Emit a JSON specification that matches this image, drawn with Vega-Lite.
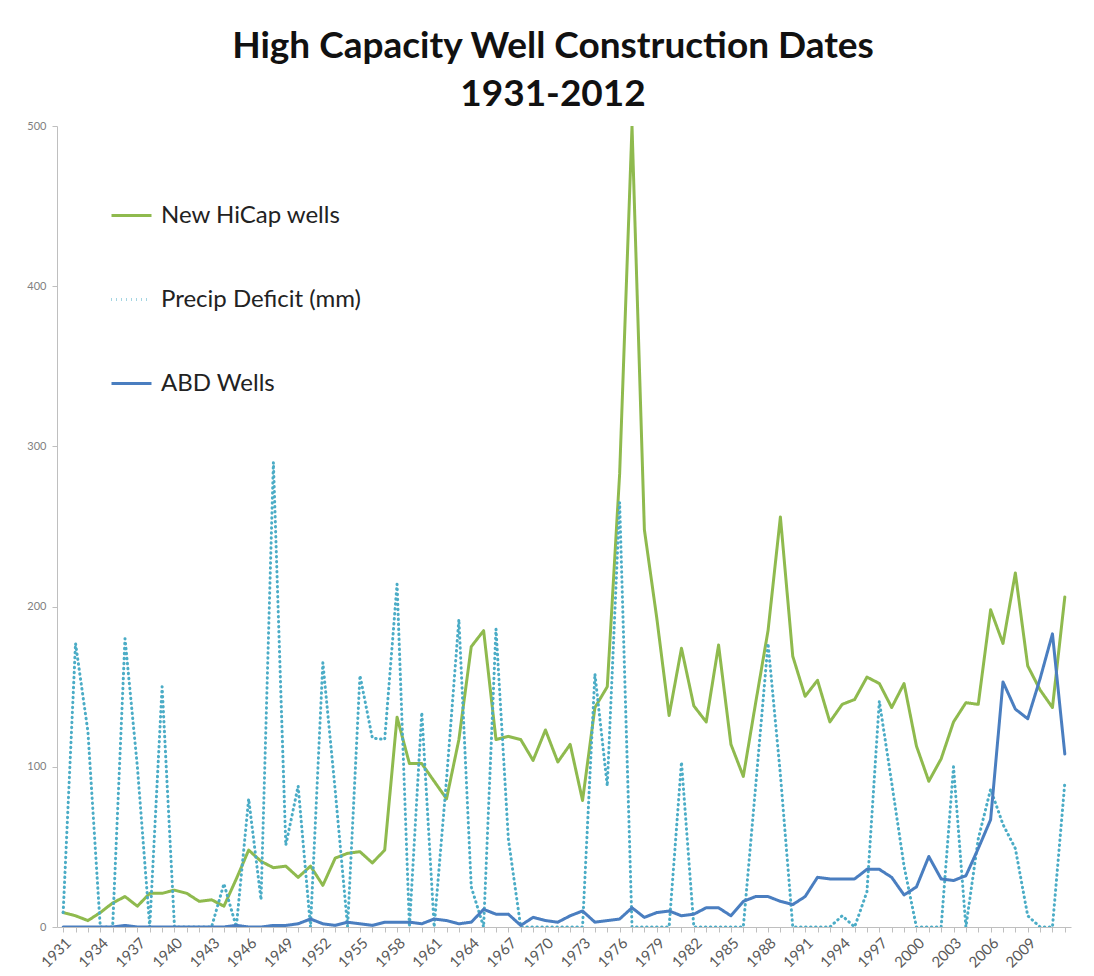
{
"$schema": "https://vega.github.io/schema/vega-lite/v6.json",
"width": 1014,
"height": 801,
"autosize": {"type": "none"},
"padding": {"left": 57, "top": 126, "right": 23, "bottom": 49},
"background": "white",
"config": {"view": {"stroke": null}, "font": "Lato"},
"title": {"text": ["High Capacity Well Construction Dates", "1931-2012"], "font": "Lato", "fontSize": 37, "fontWeight": "bold", "color": "#111111", "lineHeight": 48, "anchor": "middle", "offset": 6, "dx": -11},
"data": {"values": [
{"year":1931,"series":"New HiCap wells","value":9},{"year":1932,"series":"New HiCap wells","value":7},{"year":1933,"series":"New HiCap wells","value":4},{"year":1934,"series":"New HiCap wells","value":9},{"year":1935,"series":"New HiCap wells","value":15},{"year":1936,"series":"New HiCap wells","value":19},{"year":1937,"series":"New HiCap wells","value":13},{"year":1938,"series":"New HiCap wells","value":21},{"year":1939,"series":"New HiCap wells","value":21},{"year":1940,"series":"New HiCap wells","value":23},{"year":1941,"series":"New HiCap wells","value":21},{"year":1942,"series":"New HiCap wells","value":16},{"year":1943,"series":"New HiCap wells","value":17},{"year":1944,"series":"New HiCap wells","value":13},{"year":1945,"series":"New HiCap wells","value":30},{"year":1946,"series":"New HiCap wells","value":48},{"year":1947,"series":"New HiCap wells","value":41},{"year":1948,"series":"New HiCap wells","value":37},{"year":1949,"series":"New HiCap wells","value":38},{"year":1950,"series":"New HiCap wells","value":31},{"year":1951,"series":"New HiCap wells","value":38},{"year":1952,"series":"New HiCap wells","value":26},{"year":1953,"series":"New HiCap wells","value":43},{"year":1954,"series":"New HiCap wells","value":46},{"year":1955,"series":"New HiCap wells","value":47},{"year":1956,"series":"New HiCap wells","value":40},{"year":1957,"series":"New HiCap wells","value":48},{"year":1958,"series":"New HiCap wells","value":131},{"year":1959,"series":"New HiCap wells","value":102},{"year":1960,"series":"New HiCap wells","value":102},{"year":1961,"series":"New HiCap wells","value":91},{"year":1962,"series":"New HiCap wells","value":80},{"year":1963,"series":"New HiCap wells","value":117},{"year":1964,"series":"New HiCap wells","value":175},{"year":1965,"series":"New HiCap wells","value":185},{"year":1966,"series":"New HiCap wells","value":117},{"year":1967,"series":"New HiCap wells","value":119},{"year":1968,"series":"New HiCap wells","value":117},{"year":1969,"series":"New HiCap wells","value":104},{"year":1970,"series":"New HiCap wells","value":123},{"year":1971,"series":"New HiCap wells","value":103},{"year":1972,"series":"New HiCap wells","value":114},{"year":1973,"series":"New HiCap wells","value":79},{"year":1974,"series":"New HiCap wells","value":137},{"year":1975,"series":"New HiCap wells","value":150},{"year":1976,"series":"New HiCap wells","value":283},{"year":1977,"series":"New HiCap wells","value":500},{"year":1978,"series":"New HiCap wells","value":248},{"year":1979,"series":"New HiCap wells","value":193},{"year":1980,"series":"New HiCap wells","value":132},{"year":1981,"series":"New HiCap wells","value":174},{"year":1982,"series":"New HiCap wells","value":138},{"year":1983,"series":"New HiCap wells","value":128},{"year":1984,"series":"New HiCap wells","value":176},{"year":1985,"series":"New HiCap wells","value":114},{"year":1986,"series":"New HiCap wells","value":94},{"year":1987,"series":"New HiCap wells","value":140},{"year":1988,"series":"New HiCap wells","value":185},{"year":1989,"series":"New HiCap wells","value":256},{"year":1990,"series":"New HiCap wells","value":169},{"year":1991,"series":"New HiCap wells","value":144},{"year":1992,"series":"New HiCap wells","value":154},{"year":1993,"series":"New HiCap wells","value":128},{"year":1994,"series":"New HiCap wells","value":139},{"year":1995,"series":"New HiCap wells","value":142},{"year":1996,"series":"New HiCap wells","value":156},{"year":1997,"series":"New HiCap wells","value":152},{"year":1998,"series":"New HiCap wells","value":137},{"year":1999,"series":"New HiCap wells","value":152},{"year":2000,"series":"New HiCap wells","value":113},{"year":2001,"series":"New HiCap wells","value":91},{"year":2002,"series":"New HiCap wells","value":105},{"year":2003,"series":"New HiCap wells","value":128},{"year":2004,"series":"New HiCap wells","value":140},{"year":2005,"series":"New HiCap wells","value":139},{"year":2006,"series":"New HiCap wells","value":198},{"year":2007,"series":"New HiCap wells","value":177},{"year":2008,"series":"New HiCap wells","value":221},{"year":2009,"series":"New HiCap wells","value":163},{"year":2010,"series":"New HiCap wells","value":148},{"year":2011,"series":"New HiCap wells","value":137},{"year":2012,"series":"New HiCap wells","value":206},
{"year":1931,"series":"Precip Deficit (mm)","value":9},{"year":1932,"series":"Precip Deficit (mm)","value":177},{"year":1933,"series":"Precip Deficit (mm)","value":122},{"year":1934,"series":"Precip Deficit (mm)","value":0},{"year":1935,"series":"Precip Deficit (mm)","value":0},{"year":1936,"series":"Precip Deficit (mm)","value":180},{"year":1937,"series":"Precip Deficit (mm)","value":100},{"year":1938,"series":"Precip Deficit (mm)","value":0},{"year":1939,"series":"Precip Deficit (mm)","value":150},{"year":1940,"series":"Precip Deficit (mm)","value":0},{"year":1941,"series":"Precip Deficit (mm)","value":0},{"year":1942,"series":"Precip Deficit (mm)","value":0},{"year":1943,"series":"Precip Deficit (mm)","value":0},{"year":1944,"series":"Precip Deficit (mm)","value":27},{"year":1945,"series":"Precip Deficit (mm)","value":0},{"year":1946,"series":"Precip Deficit (mm)","value":80},{"year":1947,"series":"Precip Deficit (mm)","value":17},{"year":1948,"series":"Precip Deficit (mm)","value":290},{"year":1949,"series":"Precip Deficit (mm)","value":51},{"year":1950,"series":"Precip Deficit (mm)","value":88},{"year":1951,"series":"Precip Deficit (mm)","value":0},{"year":1952,"series":"Precip Deficit (mm)","value":165},{"year":1953,"series":"Precip Deficit (mm)","value":85},{"year":1954,"series":"Precip Deficit (mm)","value":0},{"year":1955,"series":"Precip Deficit (mm)","value":157},{"year":1956,"series":"Precip Deficit (mm)","value":118},{"year":1957,"series":"Precip Deficit (mm)","value":117},{"year":1958,"series":"Precip Deficit (mm)","value":214},{"year":1959,"series":"Precip Deficit (mm)","value":0},{"year":1960,"series":"Precip Deficit (mm)","value":134},{"year":1961,"series":"Precip Deficit (mm)","value":0},{"year":1962,"series":"Precip Deficit (mm)","value":92},{"year":1963,"series":"Precip Deficit (mm)","value":192},{"year":1964,"series":"Precip Deficit (mm)","value":25},{"year":1965,"series":"Precip Deficit (mm)","value":0},{"year":1966,"series":"Precip Deficit (mm)","value":186},{"year":1967,"series":"Precip Deficit (mm)","value":55},{"year":1968,"series":"Precip Deficit (mm)","value":0},{"year":1969,"series":"Precip Deficit (mm)","value":0},{"year":1970,"series":"Precip Deficit (mm)","value":0},{"year":1971,"series":"Precip Deficit (mm)","value":0},{"year":1972,"series":"Precip Deficit (mm)","value":0},{"year":1973,"series":"Precip Deficit (mm)","value":0},{"year":1974,"series":"Precip Deficit (mm)","value":158},{"year":1975,"series":"Precip Deficit (mm)","value":88},{"year":1976,"series":"Precip Deficit (mm)","value":265},{"year":1977,"series":"Precip Deficit (mm)","value":0},{"year":1978,"series":"Precip Deficit (mm)","value":0},{"year":1979,"series":"Precip Deficit (mm)","value":0},{"year":1980,"series":"Precip Deficit (mm)","value":0},{"year":1981,"series":"Precip Deficit (mm)","value":103},{"year":1982,"series":"Precip Deficit (mm)","value":0},{"year":1983,"series":"Precip Deficit (mm)","value":0},{"year":1984,"series":"Precip Deficit (mm)","value":0},{"year":1985,"series":"Precip Deficit (mm)","value":0},{"year":1986,"series":"Precip Deficit (mm)","value":0},{"year":1987,"series":"Precip Deficit (mm)","value":88},{"year":1988,"series":"Precip Deficit (mm)","value":177},{"year":1989,"series":"Precip Deficit (mm)","value":95},{"year":1990,"series":"Precip Deficit (mm)","value":0},{"year":1991,"series":"Precip Deficit (mm)","value":0},{"year":1992,"series":"Precip Deficit (mm)","value":0},{"year":1993,"series":"Precip Deficit (mm)","value":0},{"year":1994,"series":"Precip Deficit (mm)","value":7},{"year":1995,"series":"Precip Deficit (mm)","value":0},{"year":1996,"series":"Precip Deficit (mm)","value":22},{"year":1997,"series":"Precip Deficit (mm)","value":141},{"year":1998,"series":"Precip Deficit (mm)","value":90},{"year":1999,"series":"Precip Deficit (mm)","value":38},{"year":2000,"series":"Precip Deficit (mm)","value":0},{"year":2001,"series":"Precip Deficit (mm)","value":0},{"year":2002,"series":"Precip Deficit (mm)","value":0},{"year":2003,"series":"Precip Deficit (mm)","value":100},{"year":2004,"series":"Precip Deficit (mm)","value":0},{"year":2005,"series":"Precip Deficit (mm)","value":55},{"year":2006,"series":"Precip Deficit (mm)","value":86},{"year":2007,"series":"Precip Deficit (mm)","value":64},{"year":2008,"series":"Precip Deficit (mm)","value":49},{"year":2009,"series":"Precip Deficit (mm)","value":7},{"year":2010,"series":"Precip Deficit (mm)","value":0},{"year":2011,"series":"Precip Deficit (mm)","value":0},{"year":2012,"series":"Precip Deficit (mm)","value":90},
{"year":1931,"series":"ABD Wells","value":0},{"year":1932,"series":"ABD Wells","value":0},{"year":1933,"series":"ABD Wells","value":0},{"year":1934,"series":"ABD Wells","value":0},{"year":1935,"series":"ABD Wells","value":0},{"year":1936,"series":"ABD Wells","value":1},{"year":1937,"series":"ABD Wells","value":0},{"year":1938,"series":"ABD Wells","value":0},{"year":1939,"series":"ABD Wells","value":0},{"year":1940,"series":"ABD Wells","value":0},{"year":1941,"series":"ABD Wells","value":0},{"year":1942,"series":"ABD Wells","value":0},{"year":1943,"series":"ABD Wells","value":0},{"year":1944,"series":"ABD Wells","value":0},{"year":1945,"series":"ABD Wells","value":1},{"year":1946,"series":"ABD Wells","value":0},{"year":1947,"series":"ABD Wells","value":0},{"year":1948,"series":"ABD Wells","value":1},{"year":1949,"series":"ABD Wells","value":1},{"year":1950,"series":"ABD Wells","value":2},{"year":1951,"series":"ABD Wells","value":5},{"year":1952,"series":"ABD Wells","value":2},{"year":1953,"series":"ABD Wells","value":1},{"year":1954,"series":"ABD Wells","value":3},{"year":1955,"series":"ABD Wells","value":2},{"year":1956,"series":"ABD Wells","value":1},{"year":1957,"series":"ABD Wells","value":3},{"year":1958,"series":"ABD Wells","value":3},{"year":1959,"series":"ABD Wells","value":3},{"year":1960,"series":"ABD Wells","value":2},{"year":1961,"series":"ABD Wells","value":5},{"year":1962,"series":"ABD Wells","value":4},{"year":1963,"series":"ABD Wells","value":2},{"year":1964,"series":"ABD Wells","value":3},{"year":1965,"series":"ABD Wells","value":11},{"year":1966,"series":"ABD Wells","value":8},{"year":1967,"series":"ABD Wells","value":8},{"year":1968,"series":"ABD Wells","value":1},{"year":1969,"series":"ABD Wells","value":6},{"year":1970,"series":"ABD Wells","value":4},{"year":1971,"series":"ABD Wells","value":3},{"year":1972,"series":"ABD Wells","value":7},{"year":1973,"series":"ABD Wells","value":10},{"year":1974,"series":"ABD Wells","value":3},{"year":1975,"series":"ABD Wells","value":4},{"year":1976,"series":"ABD Wells","value":5},{"year":1977,"series":"ABD Wells","value":12},{"year":1978,"series":"ABD Wells","value":6},{"year":1979,"series":"ABD Wells","value":9},{"year":1980,"series":"ABD Wells","value":10},{"year":1981,"series":"ABD Wells","value":7},{"year":1982,"series":"ABD Wells","value":8},{"year":1983,"series":"ABD Wells","value":12},{"year":1984,"series":"ABD Wells","value":12},{"year":1985,"series":"ABD Wells","value":7},{"year":1986,"series":"ABD Wells","value":16},{"year":1987,"series":"ABD Wells","value":19},{"year":1988,"series":"ABD Wells","value":19},{"year":1989,"series":"ABD Wells","value":16},{"year":1990,"series":"ABD Wells","value":14},{"year":1991,"series":"ABD Wells","value":19},{"year":1992,"series":"ABD Wells","value":31},{"year":1993,"series":"ABD Wells","value":30},{"year":1994,"series":"ABD Wells","value":30},{"year":1995,"series":"ABD Wells","value":30},{"year":1996,"series":"ABD Wells","value":36},{"year":1997,"series":"ABD Wells","value":36},{"year":1998,"series":"ABD Wells","value":31},{"year":1999,"series":"ABD Wells","value":20},{"year":2000,"series":"ABD Wells","value":25},{"year":2001,"series":"ABD Wells","value":44},{"year":2002,"series":"ABD Wells","value":30},{"year":2003,"series":"ABD Wells","value":29},{"year":2004,"series":"ABD Wells","value":32},{"year":2005,"series":"ABD Wells","value":49},{"year":2006,"series":"ABD Wells","value":67},{"year":2007,"series":"ABD Wells","value":153},{"year":2008,"series":"ABD Wells","value":136},{"year":2009,"series":"ABD Wells","value":130},{"year":2010,"series":"ABD Wells","value":155},{"year":2011,"series":"ABD Wells","value":183},{"year":2012,"series":"ABD Wells","value":108}
]},
"mark": {"type": "line", "strokeWidth": 3, "strokeCap": "round", "strokeJoin": "round", "clip": true},
"encoding": {
"x": {"field": "year", "type": "ordinal", "scale": {"padding": 0.5},
  "axis": {"title": null, "labelAngle": -45, "labelFontSize": 15, "labelColor": "#595959", "labelFont": "Lato", "labelPadding": 3, "labelOverlap": false, "labelExpr": "((datum.value - 1931) % 3 == 0 && datum.value < 2012) ? datum.label : ''", "domainColor": "#BFBFBF", "tickColor": "#BFBFBF", "tickSize": 5, "grid": false}},
"y": {"field": "value", "type": "quantitative", "scale": {"domain": [0, 500], "nice": false},
  "axis": {"title": null, "values": [0, 100, 200, 300, 400, 500], "labelFontSize": 11, "labelColor": "#7F7F7F", "labelFont": "Lato", "labelPadding": 6, "domainColor": "#BFBFBF", "tickColor": "#BFBFBF", "tickSize": 5, "grid": false}},
"color": {"field": "series", "type": "nominal",
  "scale": {"domain": ["New HiCap wells", "Precip Deficit (mm)", "ABD Wells"], "range": ["#8FBA4E", "#4BACC6", "#4A7EC0"]},
  "legend": {"title": null, "orient": "none", "legendX": 53, "legendY": 68, "symbolType": "stroke", "symbolSize": 1600, "symbolStrokeWidth": 3, "labelFontSize": 24, "labelFont": "Lato", "labelColor": "#222222", "labelLimit": 0, "rowPadding": 50, "labelOffset": 8, "padding": 0}},
"strokeDash": {"field": "series", "type": "nominal",
  "scale": {"domain": ["New HiCap wells", "Precip Deficit (mm)", "ABD Wells"], "range": [[1, 0], [0.5, 4.5], [1, 0]]},
  "legend": {"title": null, "orient": "none", "legendX": 53, "legendY": 68, "symbolType": "stroke", "symbolSize": 1600, "symbolStrokeWidth": 3, "labelFontSize": 24, "labelFont": "Lato", "labelColor": "#222222", "labelLimit": 0, "rowPadding": 50, "labelOffset": 8, "padding": 0}}
}
}
